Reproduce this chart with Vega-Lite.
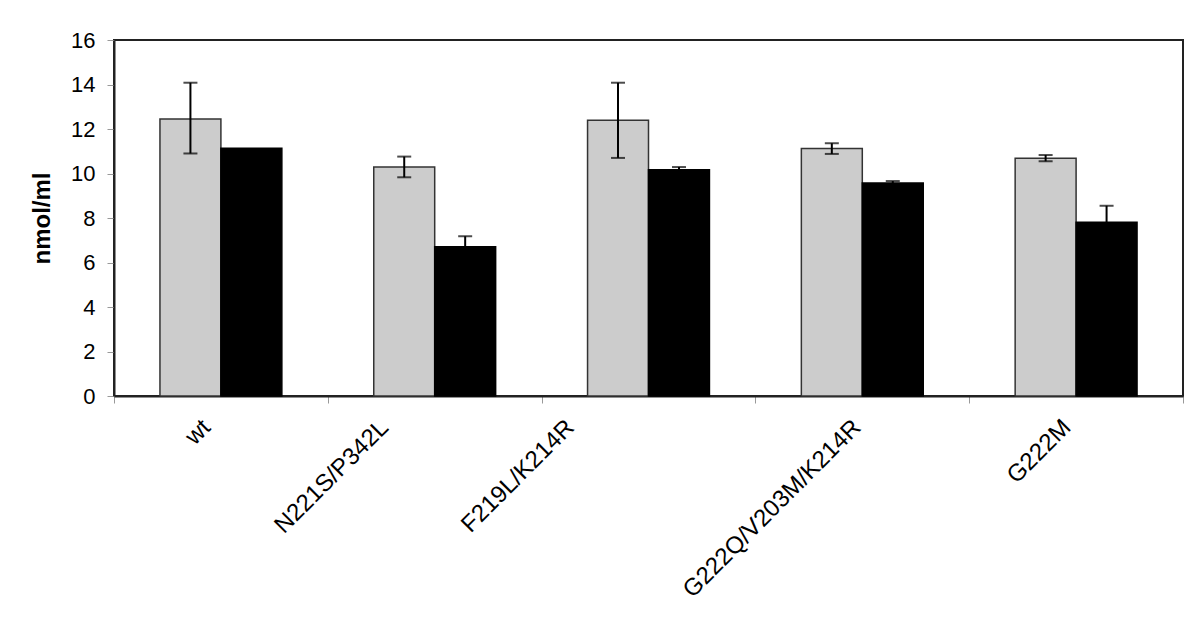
{
  "$schema": "https://vega.github.io/schema/vega-lite/v6.json",
  "width": 1069,
  "height": 356,
  "autosize": "none",
  "padding": {"left": 114, "top": 40, "right": 17, "bottom": 239},
  "background": "white",
  "config": {
    "font": "Liberation Sans",
    "view": {"stroke": "#222", "strokeWidth": 2}
  },
  "data": {
    "values": [
      {"mutant": "wt", "series": "s1", "value": 12.45, "lo": 10.9, "hi": 14.08},
      {"mutant": "wt", "series": "s2", "value": 11.13, "lo": null, "hi": null},
      {"mutant": "N221S/P342L", "series": "s1", "value": 10.29, "lo": 9.83, "hi": 10.76},
      {"mutant": "N221S/P342L", "series": "s2", "value": 6.71, "lo": 6.24, "hi": 7.18},
      {"mutant": "F219L/K214R", "series": "s1", "value": 12.39, "lo": 10.7, "hi": 14.08},
      {"mutant": "F219L/K214R", "series": "s2", "value": 10.17, "lo": 10.05, "hi": 10.29},
      {"mutant": "G222Q/V203M/K214R", "series": "s1", "value": 11.12, "lo": 10.88, "hi": 11.36},
      {"mutant": "G222Q/V203M/K214R", "series": "s2", "value": 9.57, "lo": 9.48, "hi": 9.66},
      {"mutant": "G222M", "series": "s1", "value": 10.69, "lo": 10.55, "hi": 10.83},
      {"mutant": "G222M", "series": "s2", "value": 7.81, "lo": 7.07, "hi": 8.55}
    ]
  },
  "encoding": {
    "x": {
      "field": "mutant",
      "type": "nominal",
      "sort": null,
      "scale": {"paddingInner": 0, "paddingOuter": 0},
      "axis": {
        "title": null,
        "labelAngle": -45,
        "labelFontSize": 24,
        "labelColor": "black",
        "labelPadding": 12,
        "labelLimit": 0,
        "labelOffset": {"expr": "datum.value === 'wt' ? -23 : datum.value === 'N221S/P342L' ? -59 : datum.value === 'F219L/K214R' ? -87 : datum.value === 'G222Q/V203M/K214R' ? -14 : -18"},
        "tickBand": "extent",
        "tickColor": "#999",
        "tickSize": 7,
        "domainColor": "#222",
        "domainWidth": 2
      }
    },
    "xOffset": {
      "field": "series",
      "type": "nominal",
      "scale": {"paddingInner": 0, "paddingOuter": 0.754}
    }
  },
  "layer": [
    {
      "mark": {"type": "bar", "strokeWidth": 1.5},
      "encoding": {
        "y": {
          "field": "value",
          "type": "quantitative",
          "scale": {"domain": [0, 16], "nice": false},
          "axis": {
            "title": "nmol/ml",
            "titleFontSize": 24,
            "titleFontWeight": "bold",
            "titleColor": "black",
            "titlePadding": 16,
            "values": [0, 2, 4, 6, 8, 10, 12, 14, 16],
            "labelFontSize": 22,
            "labelColor": "black",
            "labelPadding": 12,
            "tickColor": "#999",
            "tickSize": 7,
            "grid": false,
            "domainColor": "#222",
            "domainWidth": 2
          }
        },
        "fill": {
          "field": "series",
          "type": "nominal",
          "scale": {"domain": ["s1", "s2"], "range": ["#cccccc", "#000000"]},
          "legend": null
        },
        "stroke": {
          "field": "series",
          "type": "nominal",
          "scale": {"domain": ["s1", "s2"], "range": ["#333333", "#000000"]},
          "legend": null
        }
      }
    },
    {
      "mark": {"type": "rule", "color": "black", "strokeWidth": 2},
      "encoding": {
        "y": {"field": "lo", "type": "quantitative"},
        "y2": {"field": "hi"}
      }
    },
    {
      "mark": {"type": "tick", "color": "black", "size": 14, "thickness": 2},
      "encoding": {"y": {"field": "hi", "type": "quantitative"}}
    },
    {
      "mark": {"type": "tick", "color": "black", "size": 14, "thickness": 2},
      "encoding": {"y": {"field": "lo", "type": "quantitative"}}
    }
  ]
}
